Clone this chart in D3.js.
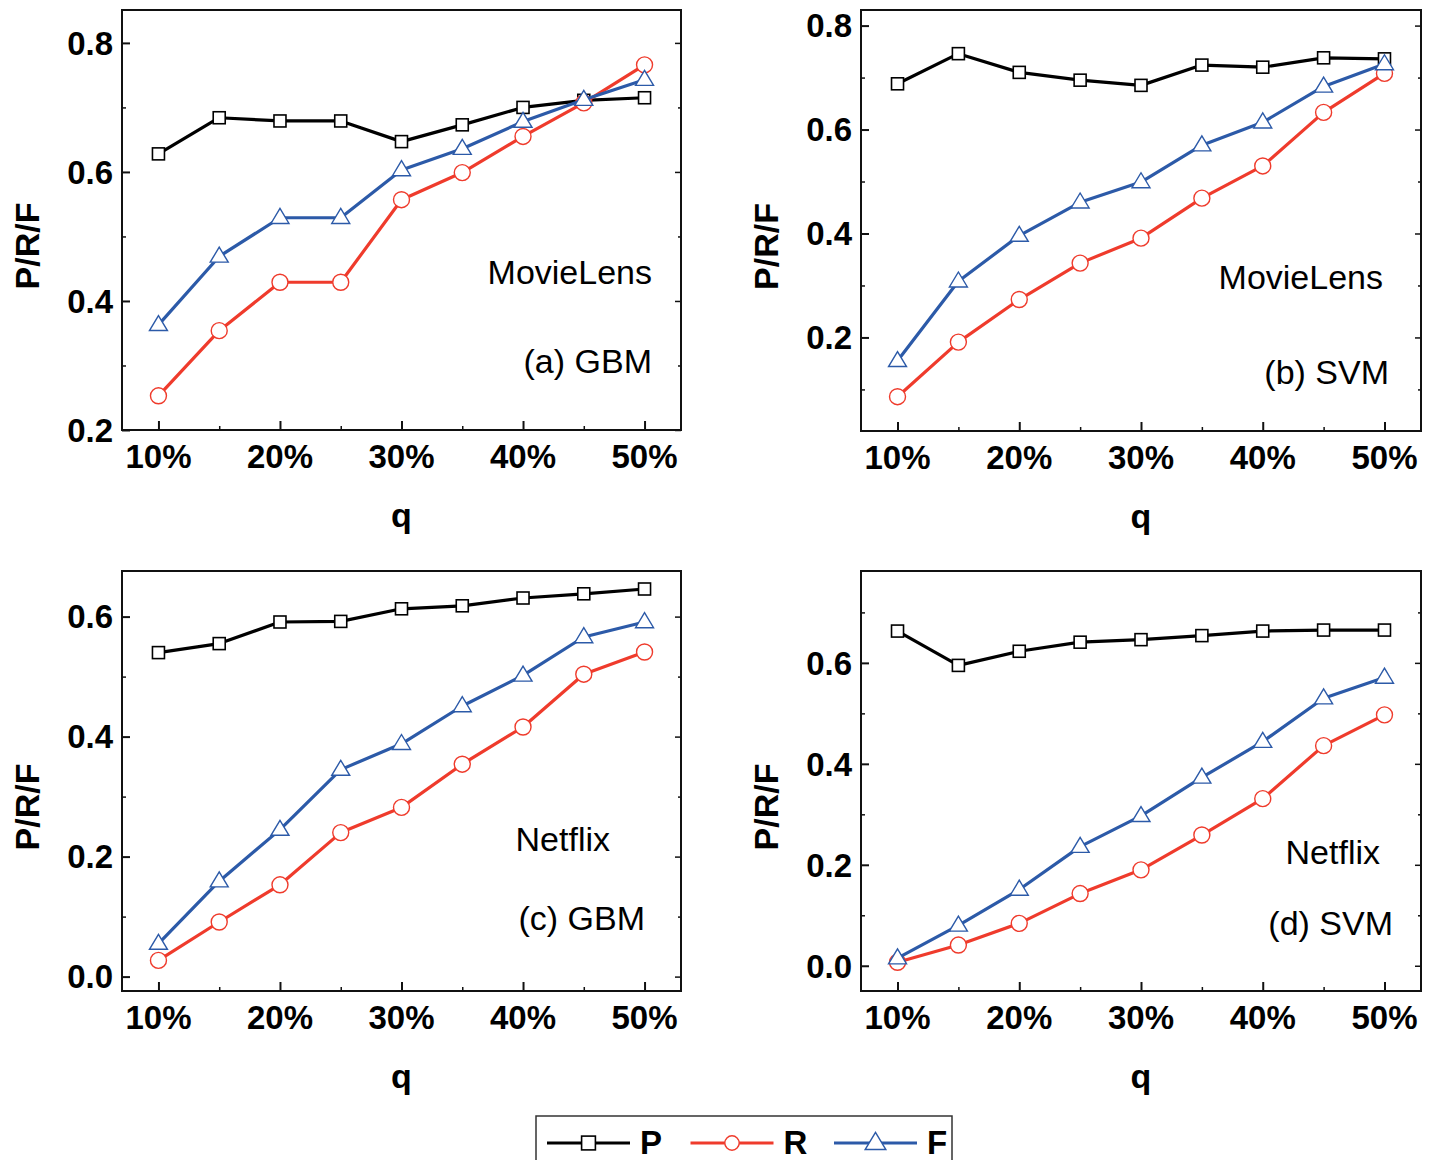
<!DOCTYPE html>
<html>
<head>
<meta charset="utf-8">
<script src="https://cdn.jsdelivr.net/npm/d3@7"></script>
<style>
  body { margin: 0; background: #fff; }
  svg { display: block; font-family: "Liberation Sans", Arial, sans-serif; }
</style>
</head>
<body>
<svg id="chart" width="1435" height="1160"></svg>
<script>
// q values (percent) shared by all panels
var qValues = [10, 15, 20, 25, 30, 35, 40, 45, 50];
var xTicks = [10, 20, 30, 40, 50];
var seriesNames = ["P", "R", "F"];

// (a) MovieLens, GBM
var movieGbmP = [0.628, 0.684, 0.679, 0.679, 0.647, 0.673, 0.700, 0.711, 0.715];
var movieGbmR = [0.253, 0.354, 0.429, 0.429, 0.557, 0.599, 0.655, 0.707, 0.766];
var movieGbmF = [0.363, 0.469, 0.529, 0.529, 0.603, 0.636, 0.678, 0.712, 0.743];

// (b) MovieLens, SVM
var movieSvmP = [0.688, 0.746, 0.710, 0.695, 0.685, 0.724, 0.720, 0.738, 0.736];
var movieSvmR = [0.086, 0.191, 0.273, 0.343, 0.391, 0.468, 0.530, 0.633, 0.708];
var movieSvmF = [0.155, 0.308, 0.396, 0.460, 0.499, 0.570, 0.614, 0.683, 0.726];

// (c) Netflix, GBM
var netGbmP = [0.540, 0.555, 0.591, 0.592, 0.613, 0.618, 0.631, 0.638, 0.646];
var netGbmR = [0.027, 0.091, 0.153, 0.240, 0.282, 0.354, 0.416, 0.504, 0.541];
var netGbmF = [0.055, 0.159, 0.245, 0.345, 0.388, 0.451, 0.502, 0.566, 0.591];

// (d) Netflix, SVM
var netSvmP = [0.663, 0.595, 0.623, 0.641, 0.646, 0.654, 0.663, 0.665, 0.665];
var netSvmR = [0.007, 0.041, 0.084, 0.143, 0.190, 0.259, 0.331, 0.436, 0.497];
var netSvmF = [0.015, 0.080, 0.151, 0.236, 0.297, 0.373, 0.444, 0.530, 0.571];

var yTicksTop = [0.2, 0.4, 0.6, 0.8];
var yTicksBottom = [0.0, 0.2, 0.4, 0.6];

var colors = { P: "#000000", R: "#ef3b2c", F: "#2c5aa8" };

var panels = [
  { left: 122, top: 10, right: 681, bottom: 430, yDomain: [0.2, 0.851], yTicks: yTicksTop,
    data: { P: movieGbmP, R: movieGbmR, F: movieGbmF },
    notes: [{ text: "MovieLens", x: 652, y: 284 }, { text: "(a) GBM", x: 652, y: 373 }] },
  { left: 861, top: 10, right: 1421, bottom: 431, yDomain: [0.02, 0.83], yTicks: yTicksTop,
    data: { P: movieSvmP, R: movieSvmR, F: movieSvmF },
    notes: [{ text: "MovieLens", x: 1383, y: 289 }, { text: "(b) SVM", x: 1389, y: 384 }] },
  { left: 122, top: 571, right: 681, bottom: 991, yDomain: [-0.024, 0.676], yTicks: yTicksBottom,
    data: { P: netGbmP, R: netGbmR, F: netGbmF },
    notes: [{ text: "Netflix", x: 610, y: 851 }, { text: "(c) GBM", x: 645, y: 930 }] },
  { left: 861, top: 571, right: 1421, bottom: 991, yDomain: [-0.05, 0.782], yTicks: yTicksBottom,
    data: { P: netSvmP, R: netSvmR, F: netSvmF },
    notes: [{ text: "Netflix", x: 1380, y: 864 }, { text: "(d) SVM", x: 1393, y: 935 }] }
];

var svg = d3.select("#chart");

function drawMarker(g, name, cx, cy, big) {
  var s = big ? 1.15 : 1;
  if (name === "P") {
    g.append("rect")
      .attr("x", cx - 6 * s).attr("y", cy - 6 * s)
      .attr("width", 12 * s).attr("height", 12 * s)
      .attr("fill", "#fff").attr("stroke", "#000").attr("stroke-width", 1.6);
  } else if (name === "R") {
    g.append("circle")
      .attr("cx", cx).attr("cy", cy).attr("r", 8 * (big ? 0.9 : 1))
      .attr("fill", "#fff").attr("stroke", colors.R).attr("stroke-width", 1.4);
  } else {
    var w = 9 * s, h = 15 * s;
    g.append("path")
      .attr("d", "M" + cx + "," + (cy - h * 0.62) + "L" + (cx + w) + "," + (cy + h * 0.38) + "L" + (cx - w) + "," + (cy + h * 0.38) + "Z")
      .attr("fill", "#fff").attr("stroke", colors.F).attr("stroke-width", 1.4);
  }
}

function drawPanel(p) {
  var x = d3.scaleLinear().domain([7, 53]).range([p.left, p.right]);
  var y = d3.scaleLinear().domain(p.yDomain).range([p.bottom, p.top]);
  var g = svg.append("g");

  // frame
  g.append("rect")
    .attr("x", p.left).attr("y", p.top)
    .attr("width", p.right - p.left).attr("height", p.bottom - p.top)
    .attr("fill", "none").attr("stroke", "#111").attr("stroke-width", 2);

  // inward ticks: major + minor, left and right side
  var yMinor = p.yTicks.map(function(t) { return t + 0.1; }).concat([p.yTicks[0] - 0.1])
    .filter(function(t) { return t > p.yDomain[0] && t < p.yDomain[1]; });
  var yMajor = p.yTicks.filter(function(t) { return t >= p.yDomain[0] - 0.001; });

  g.append("g")
    .attr("transform", "translate(" + p.left + ",0)")
    .call(d3.axisRight(y).tickValues(yMajor).tickSize(8).tickFormat(""))
    .call(function(a) { a.select(".domain").remove(); a.selectAll("line").attr("stroke", "#111").attr("stroke-width", 2); });
  g.append("g")
    .attr("transform", "translate(" + p.left + ",0)")
    .call(d3.axisRight(y).tickValues(yMinor).tickSize(4).tickFormat(""))
    .call(function(a) { a.select(".domain").remove(); a.selectAll("line").attr("stroke", "#111").attr("stroke-width", 1.5); });
  g.append("g")
    .attr("transform", "translate(" + p.right + ",0)")
    .call(d3.axisLeft(y).tickValues(yMajor).tickSize(6).tickFormat(""))
    .call(function(a) { a.select(".domain").remove(); a.selectAll("line").attr("stroke", "#111").attr("stroke-width", 1.5); });
  g.append("g")
    .attr("transform", "translate(" + p.right + ",0)")
    .call(d3.axisLeft(y).tickValues(yMinor).tickSize(3).tickFormat(""))
    .call(function(a) { a.select(".domain").remove(); a.selectAll("line").attr("stroke", "#111").attr("stroke-width", 1.5); });

  g.append("g")
    .attr("transform", "translate(0," + p.bottom + ")")
    .call(d3.axisTop(x).tickValues(xTicks).tickSize(9).tickFormat(""))
    .call(function(a) { a.select(".domain").remove(); a.selectAll("line").attr("stroke", "#111").attr("stroke-width", 2); });
  g.append("g")
    .attr("transform", "translate(0," + p.bottom + ")")
    .call(d3.axisTop(x).tickValues([15, 25, 35, 45]).tickSize(4).tickFormat(""))
    .call(function(a) { a.select(".domain").remove(); a.selectAll("line").attr("stroke", "#111").attr("stroke-width", 1.5); });

  // tick labels
  g.selectAll(".ylab").data(yMajor).enter().append("text")
    .attr("x", p.left - 9).attr("y", function(d) { return y(d); })
    .attr("dy", "0.36em").attr("text-anchor", "end")
    .style("font-size", "33px").style("font-weight", "bold")
    .text(function(d) { return d3.format(".1f")(d); });

  g.selectAll(".xlab").data(xTicks).enter().append("text")
    .attr("x", function(d) { return x(d); }).attr("y", p.bottom + 38)
    .attr("text-anchor", "middle")
    .style("font-size", "33px").style("font-weight", "bold")
    .text(function(d) { return d + "%"; });

  // axis titles
  g.append("text")
    .attr("x", (p.left + p.right) / 2).attr("y", p.bottom + 97)
    .attr("text-anchor", "middle")
    .style("font-size", "34px").style("font-weight", "bold")
    .text("q");
  g.append("text")
    .attr("transform", "translate(" + (p.left - 83) + "," + ((p.top + p.bottom) / 2 + 26) + ") rotate(-90)")
    .attr("text-anchor", "middle")
    .style("font-size", "34px").style("font-weight", "bold")
    .text("P/R/F");

  // annotations
  p.notes.forEach(function(n) {
    g.append("text")
      .attr("x", n.x).attr("y", n.y).attr("text-anchor", "end")
      .style("font-size", "34px")
      .text(n.text);
  });

  // series
  seriesNames.forEach(function(name) {
    var vals = p.data[name];
    var line = d3.line()
      .x(function(d, i) { return x(qValues[i]); })
      .y(function(d) { return y(d); });
    g.append("path")
      .datum(vals)
      .attr("d", line)
      .attr("fill", "none")
      .attr("stroke", colors[name])
      .attr("stroke-width", 3.2)
      .attr("stroke-linejoin", "round");
    var mg = g.append("g");
    vals.forEach(function(v, i) { drawMarker(mg, name, x(qValues[i]), y(v), false); });
  });
}

panels.forEach(drawPanel);

// legend
var legend = svg.append("g");
legend.append("rect")
  .attr("x", 536).attr("y", 1116).attr("width", 416).attr("height", 60)
  .attr("fill", "#fff").attr("stroke", "#333").attr("stroke-width", 1.5);

var legendX = d3.scalePoint().domain(seriesNames).range([547, 834]);
seriesNames.forEach(function(name) {
  var x0 = legendX(name);
  legend.append("line")
    .attr("x1", x0).attr("x2", x0 + 83).attr("y1", 1143).attr("y2", 1143)
    .attr("stroke", colors[name]).attr("stroke-width", 3.2);
  drawMarker(legend, name, x0 + 41.5, 1143, true);
  legend.append("text")
    .attr("x", x0 + 93).attr("y", 1154)
    .style("font-size", "33px").style("font-weight", "bold")
    .text(name);
});
</script>
</body>
</html>
